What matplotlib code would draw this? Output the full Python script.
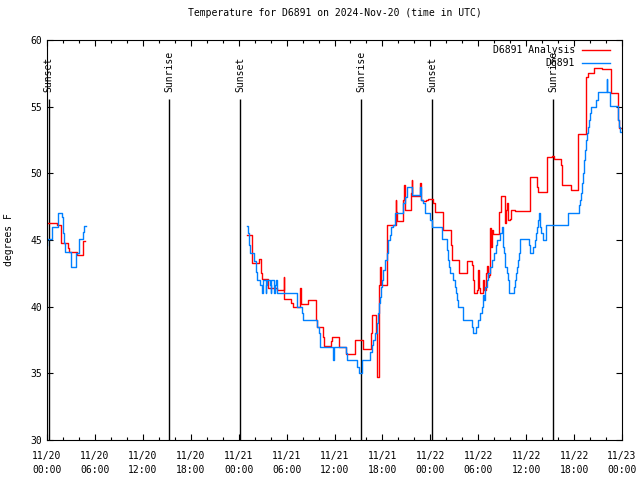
import matplotlib
matplotlib.use("Agg")
import matplotlib.pyplot as plt
import numpy as np

# hours since 2024-11-20 00:00 UTC
obs_t1 = [0.0, 0.06, 0.66, 1.41, 1.84, 1.97, 2.04, 2.13, 2.25, 3.01, 3.59, 4.04, 4.47, 4.63, 4.85]
obs_v1 = [44.6, 45.05, 46.0, 47.0, 46.7, 46.25, 45.5, 44.75, 44.1, 43.0, 44.0, 45.05, 45.6, 46.05, 46.05]

obs_t2 = [25.08, 25.17, 25.29, 25.42, 25.92, 26.13, 26.21, 26.33, 26.67, 26.96, 27.05, 27.39, 27.46,
          27.55, 27.92, 28.01, 28.09, 28.46, 28.55, 28.68, 28.76, 31.27, 31.89, 32.06, 33.85, 34.02,
          34.19, 35.85, 35.98, 37.44, 37.57, 38.86, 39.03, 39.41, 40.45, 40.66, 40.82, 41.07, 41.32,
          41.49, 41.57, 41.70, 41.82, 41.95, 42.07, 42.32, 42.54, 42.70, 42.95, 43.11, 43.33, 43.58,
          44.62, 44.83, 45.04, 45.67, 46.71, 46.83, 47.08, 47.33, 47.96, 48.21, 49.42, 50.13, 50.25,
          50.38, 50.50, 50.80, 51.05, 51.21, 51.38, 51.50, 52.13, 53.18, 53.38, 53.72, 53.93, 54.22,
          54.43, 54.60, 54.72, 54.88, 55.10, 55.22, 55.47, 55.72, 55.97, 56.19, 56.35, 56.72, 56.94,
          57.14, 57.23, 57.39, 57.56, 57.73, 57.89, 58.48, 58.60, 58.77, 58.89, 58.98, 59.07, 59.19,
          59.23, 60.39, 60.52, 60.90, 61.07, 61.23, 61.36, 61.48, 61.57, 61.70, 61.77, 61.90, 62.11,
          62.48, 65.28, 66.65, 66.74, 66.87, 66.99, 67.12, 67.24, 67.37, 67.53, 67.66, 67.78, 67.91,
          68.03, 68.16, 68.75, 69.00, 70.09, 70.16, 70.50, 71.46, 71.63, 71.75, 71.88]
obs_v2 = [46.05, 45.5, 44.6, 44.0, 43.4, 43.1, 42.6, 42.0, 41.6, 41.0, 42.0, 41.0, 41.6,
          42.0, 41.6, 41.0, 42.0, 41.0, 41.6, 42.0, 41.0, 40.0, 39.55, 39.0, 38.45, 38.0,
          37.0, 36.0, 37.0, 36.5, 36.0, 35.5, 35.0, 36.0, 36.6, 37.1, 37.5, 38.0, 38.75,
          39.5, 40.25, 40.75, 41.5, 42.0, 42.75, 43.5, 44.0, 45.0, 45.4, 46.0, 46.1, 47.05,
          47.75, 48.25, 49.0, 48.4, 49.0, 48.0, 47.75, 47.0, 46.5, 46.0, 45.1, 44.25, 43.5,
          43.0, 42.5, 42.0, 41.5, 41.0, 40.5, 40.0, 39.0, 38.5, 38.0, 38.5, 39.0, 39.5,
          40.0, 40.9, 40.5, 41.5, 42.0, 42.5, 43.0, 43.5, 44.0, 44.6, 45.0, 45.5, 46.0,
          44.5, 44.0, 43.0, 42.5, 42.0, 41.0, 41.5, 42.0, 42.5, 43.0, 43.5, 44.0, 44.5,
          45.05, 44.6, 44.05, 44.5, 45.0, 45.5, 46.0, 46.5, 47.0, 46.5, 46.0, 45.5, 45.0,
          46.1, 47.0, 47.6, 48.0, 48.5, 49.25, 50.0, 51.0, 51.75, 52.5, 53.0, 53.5, 54.0,
          54.5, 55.0, 55.5, 56.1, 57.1, 56.1, 55.05, 54.0, 53.5, 53.1, 53.1]

ana_t1 = [0.0, 1.21, 1.72, 2.59, 2.75, 3.72, 4.55, 4.80]
ana_v1 = [46.25, 46.1, 44.75, 44.4, 44.1, 43.85, 44.9, 44.9]

ana_t2 = [25.08, 25.63, 25.71, 26.58, 26.80, 26.92, 27.71, 28.76, 29.64, 29.71, 30.52, 30.77,
          31.72, 31.81, 32.64, 33.68, 33.85, 34.52, 34.69, 35.56, 35.69, 36.60, 37.44, 38.57,
          39.61, 40.57, 40.73, 41.20, 41.28, 41.36, 41.61, 41.70, 41.79, 42.61, 43.66, 43.74,
          43.86, 44.62, 44.70, 44.79, 45.54, 45.58, 45.67, 45.74, 46.67, 46.75, 46.87, 47.05,
          47.46, 47.71, 48.37, 48.59, 49.62, 50.55, 50.71, 51.63, 52.55, 53.18, 53.38, 53.51,
          53.88, 53.97, 54.10, 54.26, 54.60, 54.72, 54.97, 55.14, 55.22, 55.35, 55.47, 55.56,
          55.72, 55.89, 56.64, 56.85, 57.35, 57.48, 57.60, 57.73, 57.98, 58.14, 58.64, 60.48,
          61.32, 61.48, 62.57, 63.20, 63.49, 64.33, 64.49, 64.53, 65.58, 66.53, 67.49, 67.74,
          68.53, 69.46, 70.59, 71.54, 71.63, 71.88]
ana_v2 = [45.4, 44.6, 43.25, 43.6, 42.5, 42.05, 41.4, 41.25, 42.25, 40.6, 40.25, 39.95,
          41.4, 40.2, 40.5, 39.0, 38.45, 37.75, 37.05, 37.4, 37.75, 37.0, 36.45, 37.5,
          36.8, 38.0, 39.4, 38.0, 37.25, 34.75, 41.6, 43.0, 41.6, 46.1, 48.0, 47.1,
          46.4, 48.0, 49.1, 47.25, 47.5, 48.5, 49.5, 48.3, 48.5, 49.25, 48.0, 47.9,
          48.0, 48.1, 47.75, 47.1, 45.75, 44.6, 43.5, 42.5, 43.4, 43.1, 42.0, 41.05,
          41.25, 42.75, 41.4, 41.0, 42.0, 41.25, 42.5, 43.05, 42.25, 42.4, 45.9, 44.5,
          45.75, 45.45, 47.1, 48.3, 46.25, 47.25, 47.75, 46.5, 46.6, 47.25, 47.2, 49.7,
          49.0, 48.6, 51.2, 51.3, 51.1, 50.6, 50.0, 49.1, 48.75, 52.95, 57.25, 57.55,
          57.9, 57.8, 56.0, 54.0, 53.4, 53.4]

sun_times = [0.2, 15.28, 24.17, 39.32, 48.21, 63.36]
sun_labels = ["Sunset", "Sunrise", "Sunset", "Sunrise", "Sunset", "Sunrise"]

tick_hours = np.arange(0, 73, 6)
tick_labels = [f"11/{20 + int(h // 24)}\n{int(h % 24):02d}:00" for h in tick_hours]

series_names = ["D6891 Analysis", "D6891"]
series_colors = ["#ff0000", "#0080ff"]

plt.rcParams["font.family"] = ["DejaVu Sans Mono"]
plt.rcParams["font.size"] = 7

fig = plt.figure(figsize=(6.4, 4.8), dpi=100)
ax = fig.add_axes([47 / 640, 40 / 480, 575 / 640, 400 / 480])

# sunrise / sunset markers
for t, lab in zip(sun_times, sun_labels):
    ax.vlines(t, 30, 55.6, color="black", lw=1.0)
    ax.text(t, 56.1, lab, rotation=90, ha="center", va="bottom", fontsize=7)

for tt, vv in [(ana_t1, ana_v1), (ana_t2, ana_v2)]:
    ax.plot(tt, vv, drawstyle="steps-post", color=series_colors[0], lw=1.0)
for tt, vv in [(obs_t1, obs_v1), (obs_t2, obs_v2)]:
    ax.plot(tt, vv, drawstyle="steps-post", color=series_colors[1], lw=1.0)

ax.set_xlim(0, 72)
ax.set_ylim(30, 60)
ax.set_xticks(tick_hours)
ax.set_xticklabels(tick_labels, linespacing=1.5)
ax.set_xticks(np.arange(0, 73, 2), minor=True)
ax.set_yticks(np.arange(30, 61, 5))
ax.tick_params(which="both", direction="in", top=True, right=True, width=0.8)
ax.tick_params(which="major", length=4)
ax.tick_params(which="minor", length=2.5)
ax.tick_params(axis="x", pad=8)
ax.set_ylabel("degrees F", labelpad=12)
for s in ax.spines.values():
    s.set_linewidth(0.8)

ax.set_title("Temperature for D6891 on 2024-Nov-20 (time in UTC)", fontsize=7, pad=17)

# gnuplot style key: right-justified text, sample line after it
for i, (name, col) in enumerate(zip(series_names, series_colors)):
    yk = 0.975 - i * 0.0325
    ax.text(0.918, yk, name, transform=ax.transAxes, ha="right", va="center", fontsize=7)
    ax.plot([0.930, 0.979], [yk, yk], transform=ax.transAxes, color=col, lw=1.0)

plt.savefig("out.png", dpi=100)
plt.close()
